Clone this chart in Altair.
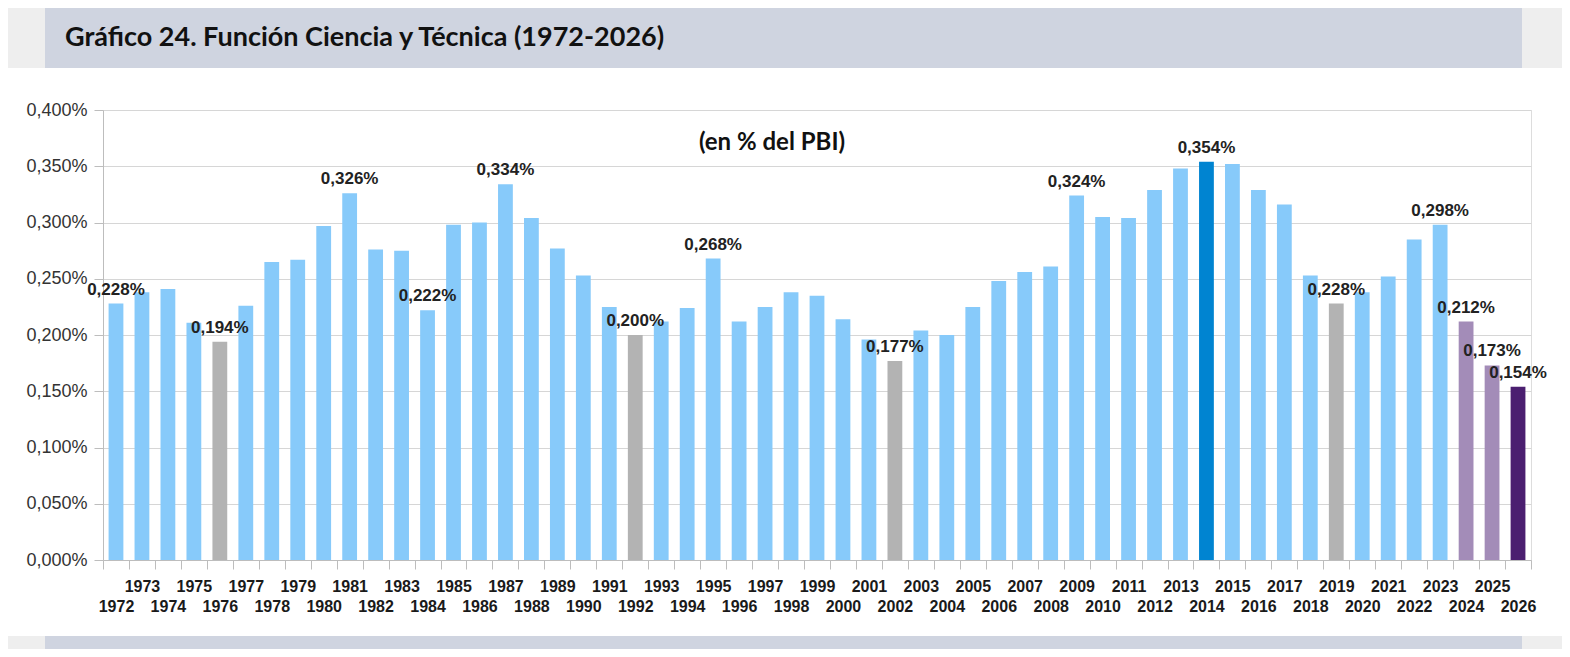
import altair as alt
import pandas as pd

years = list(range(1972, 2027))
values = [0.228, 0.238, 0.241, 0.211, 0.194, 0.226, 0.265, 0.267, 0.297, 0.326,
          0.276, 0.275, 0.222, 0.298, 0.300, 0.334, 0.304, 0.277, 0.253, 0.225,
          0.200, 0.212, 0.224, 0.268, 0.212, 0.225, 0.238, 0.235, 0.214, 0.196,
          0.177, 0.204, 0.200, 0.225, 0.248, 0.256, 0.261, 0.324, 0.305, 0.304,
          0.329, 0.348, 0.354, 0.352, 0.329, 0.316, 0.253, 0.228, 0.238, 0.252,
          0.285, 0.298, 0.212, 0.173, 0.154]
special = {1976: "gris", 1992: "gris", 2002: "gris", 2019: "gris",
           2014: "max", 2024: "lila", 2025: "lila", 2026: "violeta"}
groups = [special.get(y, "base") for y in years]
labeled_years = [1972, 1976, 1981, 1984, 1987, 1992, 1995, 2002, 2009, 2014,
                 2019, 2023, 2024, 2025, 2026]

group_domain = ["base", "gris", "max", "lila", "violeta"]
group_colors = ["#87CAFA", "#B3B3B3", "#0084D1", "#A38CB8", "#4B1F70"]

title_text = "Gráfico 24. Función Ciencia y Técnica (1972-2026)"
subtitle_text = "(en % del PBI)"

df = pd.DataFrame({"year": years, "value": values, "group": groups})
df["lab"] = df["year"].isin(labeled_years)

W, H = 1428, 450
one = pd.DataFrame({"k": [0]})

def band(x0, x1, y0, y1, color):
    return alt.Chart(one).mark_rect(color=color).encode(
        x=alt.value(x0), x2=alt.value(x1), y=alt.value(y0), y2=alt.value(y1))

HEAD = "#CFD4E0"
SIDE = "#EEEEEE"
bg = [
    band(-95, -58, -102, -42, SIDE),
    band(-58, 1419, -102, -42, HEAD),
    band(1419, 1459, -102, -42, SIDE),
    band(-95, -58, 526, 539, SIDE),
    band(-58, 1419, 526, 539, HEAD),
    band(1419, 1459, 526, 539, SIDE),
]

title = alt.Chart(one).mark_text(
    text=title_text, font="Lato", fontWeight="bold", fontSize=27,
    align="left", baseline="alphabetic", color="#111111"
).encode(x=alt.value(-38), y=alt.value(-64))

subtitle = alt.Chart(one).mark_text(
    text=subtitle_text, font="Lato", fontWeight="bold", fontSize=24,
    align="center", baseline="alphabetic", color="#111111"
).encode(x=alt.value(669), y=alt.value(40))

pct = "replace(format(datum.value, '.3f'), '.', ',') + '%'"

x_enc = alt.X("year:O", title=None,
              scale=alt.Scale(paddingInner=0, paddingOuter=0),
              axis=alt.Axis(labelAngle=0, tickBand="extent", tickSize=9,
                            tickColor="#BDBDBD", domainColor="#BDBDBD",
                            labelFont="Liberation Sans", labelFontWeight="bold",
                            labelFontSize=16, labelColor="#1A1A1A",
                            labelBaseline="alphabetic", labelPadding=22,
                            labelLineHeight=20, labelOverlap=False,
                            labelExpr="datum.value % 2 == 0 ? ['', datum.label] : datum.label"))
y_enc = alt.Y("value:Q", title=None,
              scale=alt.Scale(domain=[0, 0.4], nice=False),
              axis=alt.Axis(values=[0, 0.05, 0.1, 0.15, 0.2, 0.25, 0.3, 0.35, 0.4],
                            labelExpr=pct, tickSize=9, tickColor="#BDBDBD",
                            domainColor="#BDBDBD", gridColor="#D6D6D6",
                            labelFont="Liberation Sans", labelFontSize=18,
                            labelColor="#333333", labelPadding=7))

bars = alt.Chart(df).mark_bar(width=alt.RelativeBandSize(0.57)).encode(
    x=x_enc, y=y_enc,
    color=alt.Color("group:N", legend=None,
                    scale=alt.Scale(domain=group_domain, range=group_colors)))

labels = alt.Chart(df).transform_filter("datum.lab").transform_calculate(
    txt="replace(format(datum.value, '.3f'), '.', ',') + '%'"
).mark_text(font="Liberation Sans", fontWeight="bold", fontSize=17,
            baseline="alphabetic", align="center", dy=-9, color="#222222").encode(
    x="year:O", y="value:Q", text="txt:N")

chart = alt.layer(*bg, bars, labels, subtitle, title).properties(
    width=W, height=H, padding=0
).configure_view(stroke="#C8C8C8").configure(background="white")

chart.save("out.html", embed_options={"renderer": "svg", "actions": False})
